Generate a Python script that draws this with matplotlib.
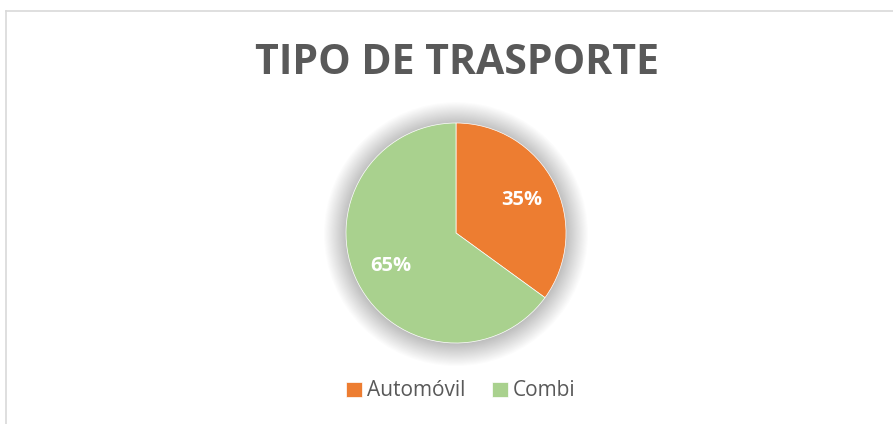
import matplotlib
matplotlib.use("Agg")
import matplotlib.pyplot as plt
from matplotlib.patches import Circle
from matplotlib.lines import Line2D
import numpy as np

# data
categories = ["Automóvil", "Combi"]
shares = [35, 65]
colours = ["#ED7D31", "#A9D18E"]
title = "TIPO DE TRASPORTE"

grey = "#595959"
plt.rcParams['font.family'] = ['Open Sans', 'DejaVu Sans']

fig = plt.figure(figsize=(8.93, 4.24), dpi=100)

# chart area border (top and left visible)
fig.add_artist(Line2D([6/893, 6/893], [0, 1 - 11/424], color="#d9d9d9", lw=1.2))
fig.add_artist(Line2D([6/893, 1], [1 - 11/424, 1 - 11/424], color="#d9d9d9", lw=1.2))

fig.text(457/893, 1 - 63/424, title, ha="center", va="center",
         fontsize=29.5, fontweight="bold", color=grey)

# pie axes, square in pixels
size = 286
ax = fig.add_axes([(456 - size/2)/893, (191 - size/2)/424, size/893, size/424])
ax.axis("off")

# soft shadow
for r in np.linspace(1.2, 1.0, 22):
    ax.add_patch(Circle((0.0, -0.01), r, color="black", alpha=0.011, lw=0, zorder=0))

wedges, texts, autotexts = ax.pie(shares, colors=colours, startangle=90, counterclock=False,
                                  autopct="%1.0f%%", pctdistance=0.67,
                                  wedgeprops=dict(linewidth=0.5, edgecolor="white"),
                                  textprops=dict(color="white", fontsize=14.5, fontweight="bold"))
ax.set_xlim(-1.3, 1.3)
ax.set_ylim(-1.3, 1.3)
ax.set_aspect("equal")

fig.legend(wedges, categories, loc="center", bbox_to_anchor=(461/893, 1 - 391/424),
           ncol=2, frameon=False, fontsize=15, labelcolor=grey,
           handlelength=0.75, handleheight=0.75, handletextpad=0.25, columnspacing=1.3)

fig.savefig("out.png", dpi=100, facecolor="white")
